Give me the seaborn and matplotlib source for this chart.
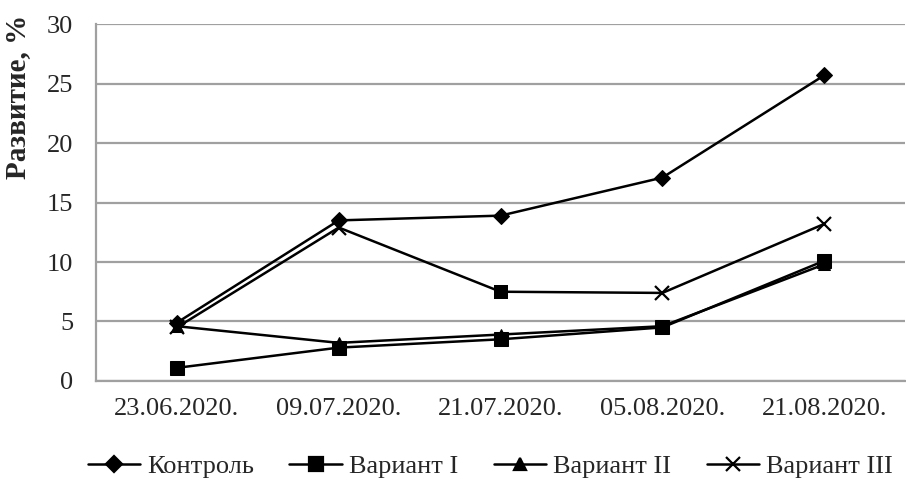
import numpy as np
import pandas as pd
import seaborn as sns
import matplotlib.pyplot as plt
from matplotlib.ticker import FixedLocator
from matplotlib.lines import Line2D

# dates of observation
dates = ['23.06.2020.', '09.07.2020.', '21.07.2020.', '05.08.2020.', '21.08.2020.']

# development, %
kontrol = [4.9, 13.5, 13.9, 17.1, 25.7]
variant_1 = [1.1, 2.8, 3.5, 4.5, 10.1]
variant_2 = [4.6, 3.2, 3.9, 4.6, 9.8]
variant_3 = [4.5, 12.9, 7.5, 7.4, 13.2]

series_names = ['Контроль', 'Вариант I', 'Вариант II', 'Вариант III']
series_markers = ['D', 's', '^', 'x']
marker_sizes = [8, 10, 9, 10]
# one point of Вариант III is drawn with a square marker in the original
v3_point_markers = ['x', 'x', 's', 'x', 'x']

sns.set_style('white')
plt.rcParams['font.family'] = ['Liberation Serif', 'DejaVu Serif']

fig, ax = plt.subplots(figsize=(9.06, 4.84), dpi=100)
fig.subplots_adjust(left=0.106, right=0.999, bottom=0.213, top=0.95)

pos = np.arange(len(dates))
all_values = [kontrol, variant_1, variant_2, variant_3]
LW = 1.8

for name, vals, mk, ms in zip(series_names, all_values, series_markers, marker_sizes):
    df = pd.DataFrame({'x': pos, 'y': vals})
    if name == 'Вариант III':
        keep = [i for i, m in enumerate(v3_point_markers) if m == 'x']
        sns.lineplot(data=df, x='x', y='y', ax=ax, color='black', lw=LW,
                     marker=mk, markersize=ms, mew=1.6, mec='black',
                     markevery=keep, zorder=3)
        other = df[[m != 'x' for m in v3_point_markers]]
        sns.scatterplot(data=other, x='x', y='y', ax=ax, color='black',
                        marker='s', s=110, linewidth=0, zorder=4, legend=False)
    else:
        sns.lineplot(data=df, x='x', y='y', ax=ax, color='black', lw=LW,
                     marker=mk, markersize=ms, mec='black', mfc='black',
                     zorder=3)

ax.set_xlim(-0.5, len(dates) - 0.5)
ax.set_ylim(0, 30)
ax.set_yticks(range(0, 31, 5))
ax.set_xticks(pos)
ax.set_xticklabels(dates, fontsize=19)
ax.xaxis.set_minor_locator(FixedLocator(np.arange(-0.5, len(dates), 1)))
ax.tick_params(axis='x', which='major', length=0, pad=12)
ax.tick_params(axis='x', which='minor', length=5.5, width=1.5, color='#a0a0a0', direction='out')
ax.tick_params(axis='y', length=6.5, width=1.5, color='#a0a0a0', direction='out', labelsize=19, pad=10)

ax.grid(axis='y', color='#a0a0a0', lw=1.6)
ax.set_axisbelow(True)
for s in ['top', 'right']:
    ax.spines[s].set_visible(False)
for s in ['left', 'bottom']:
    ax.spines[s].set_color('#a0a0a0')
    ax.spines[s].set_linewidth(1.6)

ax.set_xlabel('')
ax.set_ylabel('')
fig.text(18 / 906, 1 - 97 / 484, 'Развитие, %', rotation=90, fontsize=21,
         fontweight='bold', ha='center', va='center')

handles = [Line2D([], [], color='black', lw=LW, marker=mk, markersize=ms,
                  mec='black', mfc='black', mew=1.6)
           for mk, ms in zip(series_markers, marker_sizes)]
fig.legend(handles, series_names, loc='center', bbox_to_anchor=(0.541, 0.037), ncol=4,
           frameon=False, fontsize=19, handlelength=2.0, columnspacing=1.35,
           handletextpad=0.25)

fig.savefig('out.png', dpi=100)
